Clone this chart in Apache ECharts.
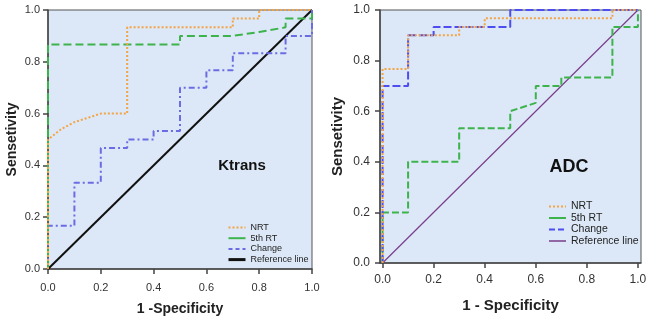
<!DOCTYPE html>
<html>
<head>
<meta charset="utf-8">
<script src="https://cdn.jsdelivr.net/npm/echarts@6/dist/echarts.min.js"></script>
<style>
  html, body { margin: 0; padding: 0; background: #fff; }
  #chart { width: 652px; height: 321px; }
</style>
</head>
<body>
<div id="chart"></div>
<script>
// ROC points [1 - specificity, sensitivity]
var ktransNRT = [[0, 0], [0, 0.5], [0.05, 0.54], [0.1, 0.567], [0.2, 0.6], [0.3, 0.6], [0.3, 0.933], [0.7, 0.933], [0.7, 0.967], [0.8, 0.967], [0.8, 1], [1, 1]];
var ktrans5th = [[0, 0], [0, 0.867], [0.5, 0.867], [0.5, 0.9], [0.7, 0.9], [0.8, 0.915], [0.9, 0.933], [0.9, 0.967], [1, 0.967], [1, 1]];
var ktransChange = [[0, 0], [0, 0.167], [0.1, 0.167], [0.1, 0.333], [0.2, 0.333], [0.2, 0.467], [0.3, 0.467], [0.3, 0.5], [0.4, 0.5], [0.4, 0.533], [0.5, 0.533], [0.5, 0.7], [0.6, 0.7], [0.6, 0.767], [0.7, 0.767], [0.7, 0.833], [0.9, 0.833], [0.9, 0.9], [1, 0.9], [1, 1]];

var adcNRT = [[0, 0], [0, 0.767], [0.1, 0.767], [0.1, 0.9], [0.3, 0.9], [0.3, 0.933], [0.4, 0.933], [0.4, 0.967], [0.9, 0.967], [0.9, 1], [1, 1]];
var adc5th = [[0, 0], [0, 0.2], [0.1, 0.2], [0.1, 0.4], [0.3, 0.4], [0.3, 0.533], [0.5, 0.533], [0.5, 0.6], [0.6, 0.633], [0.6, 0.7], [0.7, 0.7], [0.7, 0.733], [0.9, 0.733], [0.9, 0.933], [1, 0.933], [1, 1]];
var adcChange = [[0, 0], [0, 0.7], [0.1, 0.7], [0.1, 0.9], [0.2, 0.9], [0.2, 0.933], [0.5, 0.933], [0.5, 1], [1, 1]];

var refLine = [[0, 0], [1, 1]];
var tickValues = [0, 0.2, 0.4, 0.6, 0.8, 1.0];
var legendNames = ["NRT", "5th RT", "Change", "Reference line"];

var FONT = "Liberation Sans, Arial, sans-serif";
var BG = "#dce8f7";
var ORANGE = "#f3a444";
var GREEN = "#3db34c";
var BLUE1 = "#6b6be4";
var BLUE2 = "#4d4df0";
var PURPLE = "#7a3d8a";

var chart = echarts.init(document.getElementById("chart"));

function xAx(idx, name, gap, min, max, fs, margin) {
  return {
    gridIndex: idx, type: "value", min: min, max: max,
    name: name, nameLocation: "middle", nameGap: gap,
    nameTextStyle: { fontFamily: FONT, fontWeight: "bold", fontSize: fs, color: "#222" },
    axisLine: { show: true, onZero: false, lineStyle: { color: "#444", width: 1.5 } },
    axisTick: { show: true, inside: false, length: 5, customValues: tickValues, lineStyle: { color: "#444", width: 1.5 } },
    axisLabel: { customValues: tickValues, fontFamily: FONT, fontSize: idx ? 12 : 11, color: "#333", margin: margin,
      formatter: function (v) { return v.toFixed(1); } },
    splitLine: { show: false }
  };
}
function yAx(idx, gap, fs, margin) {
  return {
    gridIndex: idx, type: "value", min: 0, max: 1, interval: 0.2,
    name: "Sensetivity", nameLocation: "middle", nameGap: gap, nameRotate: 90,
    nameTextStyle: { fontFamily: FONT, fontWeight: "bold", fontSize: fs, color: "#222" },
    axisLine: { show: true, onZero: false, lineStyle: { color: "#444", width: 1.5 } },
    axisTick: { show: true, inside: false, length: 5, lineStyle: { color: "#444", width: 1.5 } },
    axisLabel: { fontFamily: FONT, fontSize: idx ? 12 : 11, color: "#333", margin: margin,
      formatter: function (v) { return v.toFixed(1); } },
    splitLine: { show: false }
  };
}
function line(name, idx, data, color, type, width) {
  return {
    name: name, type: "line", xAxisIndex: idx, yAxisIndex: idx,
    data: data, symbol: "none", animation: false, silent: true,
    lineStyle: { color: color, type: type, width: width },
    itemStyle: { color: color }
  };
}
function legendItem(name, color, type, width) {
  return { name: name, itemStyle: { color: color, opacity: 0 }, lineStyle: { color: color, type: type, width: width } };
}

var option = {
  backgroundColor: "#fff",
  animation: false,
  grid: [
    { left: 48, top: 10, width: 264, height: 264, show: true, backgroundColor: BG, borderColor: "#555", borderWidth: 1 },
    { left: 380, top: 10, width: 261, height: 253, show: true, backgroundColor: BG, borderColor: "#555", borderWidth: 1 }
  ],
  xAxis: [xAx(0, "1 -Specificity", 33, 0, 1, 14, 13), xAx(1, "1 - Specificity", 35, -0.01, 1.012, 15, 11)],
  yAxis: [yAx(0, 29, 14, 8), yAx(1, 35, 15, 10)],
  legend: [
    {
      orient: "vertical", left: 222, top: 218, itemWidth: 17, itemHeight: 9, itemGap: 1.7,
      textStyle: { fontFamily: FONT, fontSize: 9, color: "#222" },
      selectedMode: false,
      data: [
        legendItem(legendNames[0], ORANGE, "dotted", 2),
        legendItem(legendNames[1], GREEN, "solid", 2),
        legendItem(legendNames[2], BLUE1, [4, 3], 2),
        legendItem(legendNames[3], "#111", "solid", 3)
      ]
    },
    {
      orient: "vertical", left: 543, top: 196, itemWidth: 17, itemHeight: 12, itemGap: 0.5,
      textStyle: { fontFamily: FONT, fontSize: 10.5, color: "#222" },
      selectedMode: false,
      data: [
        legendItem(legendNames[0], ORANGE, "dotted", 2),
        legendItem(legendNames[1], GREEN, "solid", 2),
        legendItem(legendNames[2], BLUE2, [6, 3], 2),
        legendItem(legendNames[3], PURPLE, "solid", 1.5)
      ]
    }
  ],
  graphic: [
    { type: "text", x: 242, y: 166, style: { text: "Ktrans", font: "bold 15px " + FONT, fill: "#111", align: "center", verticalAlign: "middle" } },
    { type: "text", x: 569, y: 167, style: { text: "ADC", font: "bold 18px " + FONT, fill: "#111", align: "center", verticalAlign: "middle" } }
  ],
  series: [
    line(legendNames[3], 0, refLine, "#111", "solid", 2),
    line(legendNames[2], 0, ktransChange, BLUE1, [6, 3, 2, 3], 2),
    line(legendNames[1], 0, ktrans5th, GREEN, [8, 4], 2),
    line(legendNames[0], 0, ktransNRT, ORANGE, [2, 2], 2),
    line(legendNames[3], 1, refLine, PURPLE, "solid", 1.2),
    line(legendNames[1], 1, adc5th, GREEN, [7, 3], 2),
    line(legendNames[2], 1, adcChange, BLUE2, [8, 3], 2),
    line(legendNames[0], 1, adcNRT, ORANGE, [2, 2], 2)
  ]
};
chart.setOption(option);
</script>
</body>
</html>
